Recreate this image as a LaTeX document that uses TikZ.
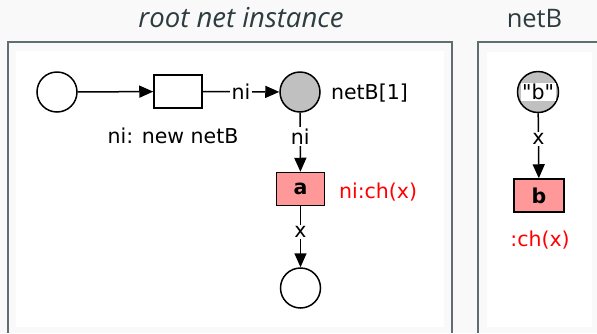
\documentclass[tikz,border=0pt]{standalone}
\usepackage{fontspec}
\setmainfont{DejaVu Sans}
\newfontfamily\titlefont{Open Sans}
\usetikzlibrary{arrows.meta}
\definecolor{pagebg}{RGB}{249,249,249}
\definecolor{framec}{RGB}{96,110,112}
\definecolor{titlec}{RGB}{45,60,62}
\definecolor{transfill}{RGB}{255,153,153}
\definecolor{placegray}{RGB}{192,192,192}
% straight double quote, bypassing the tex-text mapping
\newcommand\sq{\XeTeXglyph\XeTeXcharglyph"22\relax}

\begin{document}
\begin{tikzpicture}
  [x=1pt,y=-1pt,line width=1.5pt,font=\fontsize{20.5}{24}\selectfont,
   place/.style={circle,draw,fill=white,minimum size=40pt,inner sep=0pt},
   trans/.style={rectangle,draw,fill=white,minimum width=48pt,minimum height=33pt,inner sep=0pt},
   arc/.style={-{Triangle[length=14pt,width=12pt]}},
   lbl/.style={fill=white,inner sep=1.5pt},
   title/.style={font=\titlefont\fontsize{25.5}{30}\selectfont,text=titlec,anchor=base}]
  \useasboundingbox (0,0) rectangle (597,333);
  \fill[pagebg] (0,0) rectangle (597,333);
  % the two panels
  \draw[framec,line width=1.2pt] (8,333) -- (8,42) -- (452,42) -- (452,333);
  \fill[white] (16,51) rectangle (444,327);
  \draw[framec,line width=1.2pt] (478,333) -- (478,42) -- (597,42);
  \fill[white] (487,52) rectangle (592,327);
  \node[title,font=\titlefont\fontsize{27.5}{32}\selectfont\itshape] (troot) at (241,27) {root net instance};
  \node[title] (tnetb) at (534.5,27) {netB};
  % root net
  \node[place] (pstart) at (57,92) {};
  \node[trans] (tnew) at (178,91.5) {};
  \node[place,fill=placegray] (pnet) at (300,92) {};
  \node[trans,fill=transfill] (ta) at (300.5,189) {\textbf{a}};
  \node[place] (pend) at (300.5,288) {};
  \node (lnew) at (173,136) {ni: new netB};
  \node[anchor=west] (lnet) at (327,93) {netB[1]};
  \node[anchor=west,text=red] (lcha) at (335,192) {ni:ch(x)};
  % netB
  \node[place,fill=placegray,minimum size=41pt] (pb) at (538,92) {};
  \node[lbl,inner xsep=0pt,inner ysep=1pt,minimum width=35pt] (lpb) at (pb) {\sq b\sq};
  \node[trans,fill=transfill,minimum width=50pt] (tb) at (539,195.5) {\textbf{b}};
  \node[text=red] (lchb) at (540,240) {:ch(x)};
  \draw[arc] (pstart) -- (tnew);
  \foreach \from/\to/\txt/\p in {tnew/pnet/ni/0.5,pnet/ta/ni/0.4,ta/pend/x/0.42,pb/tb/x/0.4}
    \draw[arc] (\from) -- node[lbl,pos=\p] {\txt} (\to);
\end{tikzpicture}
\end{document}
